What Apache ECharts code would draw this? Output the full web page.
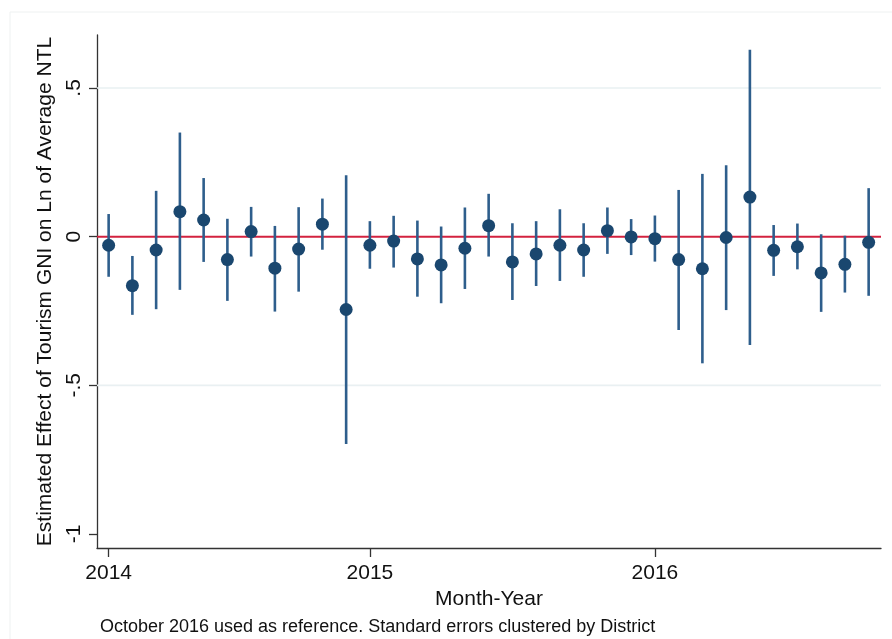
<!DOCTYPE html>
<html>
<head>
<meta charset="utf-8">
<title>Estimated Effect of Tourism GNI on Ln of Average NTL</title>
<script src="https://cdn.jsdelivr.net/npm/echarts@6/dist/echarts.min.js"></script>
<style>
  html, body { margin: 0; padding: 0; background: #ffffff; }
  #chart { width: 892px; height: 639px; }
</style>
</head>
<body>
<div id="chart"></div>
<script>
// Monthly point estimates (month index 0 = first month of 2014) and 95% CI bounds
const coef = [-0.029, -0.165, -0.045, 0.084, 0.056, -0.077, 0.017, -0.106, -0.042, 0.042, -0.245,
              -0.029, -0.015, -0.075, -0.095, -0.039, 0.037, -0.085, -0.058, -0.029, -0.045, 0.020,
              -0.001, -0.007, -0.077, -0.108, -0.003, 0.133, -0.046, -0.034, -0.122, -0.093, -0.019];
const ciHigh = [0.076, -0.065, 0.154, 0.350, 0.197, 0.060, 0.100, 0.036, 0.099, 0.128, 0.206,
                0.052, 0.070, 0.054, 0.034, 0.098, 0.144, 0.045, 0.052, 0.092, 0.045, 0.098,
                0.059, 0.071, 0.157, 0.211, 0.240, 0.628, 0.039, 0.044, 0.008, 0.003, 0.163];
const ciLow = [-0.135, -0.263, -0.244, -0.179, -0.085, -0.216, -0.067, -0.252, -0.185, -0.044, -0.697,
               -0.108, -0.104, -0.202, -0.224, -0.176, -0.067, -0.213, -0.166, -0.149, -0.135, -0.058,
               -0.062, -0.084, -0.314, -0.426, -0.247, -0.364, -0.132, -0.110, -0.253, -0.188, -0.199];

// Axis ticks
const xTickValues = [0, 11, 23];
const xTickLabels = ['2014', '2015', '2016'];
const yTickValues = [-1, -0.5, 0, 0.5];
const yTickLabels = ['-1', '-.5', '0', '.5'];
const gridValues = [-0.5, 0.5];
const referenceValue = [0];

const pointData = coef.map((v, i) => [i, v]);
const ciData = coef.map((v, i) => [i, ciLow[i], ciHigh[i]]);

const FONT = 'Liberation Sans, Arial, Helvetica, sans-serif';
const chart = echarts.init(document.getElementById('chart'), null, { renderer: 'canvas' });

// Full-width horizontal rule at a y value, clipped to the plot area
function hRule(color, width) {
  return (params, api) => {
    const cs = params.coordSys;
    const y = api.coord([0, api.value(0)])[1];
    return {
      type: 'line',
      shape: { x1: cs.x, y1: y, x2: cs.x + cs.width, y2: y },
      style: { stroke: color, lineWidth: width }
    };
  };
}

chart.setOption({
  backgroundColor: '#ffffff',
  animation: false,
  grid: { left: 97, top: 35, width: 784, height: 513 },
  graphic: [
    {
      type: 'rect',
      shape: { x: 10, y: 12, width: 900, height: 700 },
      style: { fill: null, stroke: '#eef1f1', lineWidth: 1 },
      silent: true, z: -1
    },
    {
      type: 'text',
      left: 100, top: 618,
      style: {
        text: 'October 2016 used as reference. Standard errors clustered by District',
        font: '18px ' + FONT, fill: '#111111'
      }
    }
  ],
  xAxis: {
    type: 'value',
    min: -0.49, max: 32.52,
    name: 'Month-Year',
    nameLocation: 'middle',
    nameGap: 40,
    nameTextStyle: { fontFamily: FONT, fontSize: 21, color: '#111111' },
    axisLine: { show: true, onZero: false, lineStyle: { color: '#333333', width: 1.3 } },
    axisTick: { show: true, length: 9, customValues: xTickValues, lineStyle: { color: '#333333', width: 1.3 } },
    axisLabel: {
      customValues: xTickValues,
      margin: 15,
      fontFamily: FONT, fontSize: 21, color: '#111111',
      formatter: v => xTickLabels[xTickValues.indexOf(Math.round(v))] || ''
    },
    splitLine: { show: false }
  },
  yAxis: {
    type: 'value',
    min: -1.047, max: 0.678,
    name: 'Estimated Effect of Tourism GNI on Ln of Average NTL',
    nameLocation: 'middle',
    nameGap: 38,
    nameTextStyle: { fontFamily: FONT, fontSize: 21, color: '#111111' },
    axisLine: { show: true, onZero: false, lineStyle: { color: '#333333', width: 1.3 } },
    axisTick: { show: true, length: 8, customValues: yTickValues, lineStyle: { color: '#333333', width: 1.3 } },
    axisLabel: {
      customValues: yTickValues,
      rotate: 90,
      margin: 12,
      fontFamily: FONT, fontSize: 21, color: '#111111',
      formatter: v => {
        const k = yTickValues.findIndex(t => Math.abs(t - v) < 1e-9);
        return k >= 0 ? yTickLabels[k] : '';
      }
    },
    splitLine: { show: false }
  },
  series: [
    {
      // light horizontal gridlines
      type: 'custom',
      z: 1,
      silent: true,
      data: gridValues.map(v => [v]),
      encode: { y: 0 },
      renderItem: hRule('#e9f0f2', 1.6)
    },
    {
      // reference line at zero
      type: 'custom',
      z: 2,
      silent: true,
      data: referenceValue.map(v => [v]),
      encode: { y: 0 },
      renderItem: hRule('#d3223f', 2)
    },
    {
      // confidence intervals
      type: 'custom',
      z: 3,
      silent: true,
      data: ciData,
      renderItem: (params, api) => {
        const lo = api.coord([api.value(0), api.value(1)]);
        const hi = api.coord([api.value(0), api.value(2)]);
        return {
          type: 'line',
          shape: { x1: lo[0], y1: lo[1], x2: hi[0], y2: hi[1] },
          style: { stroke: '#2e5e8c', lineWidth: 2.6 }
        };
      }
    },
    {
      // point estimates
      type: 'scatter',
      z: 4,
      symbol: 'circle',
      symbolSize: 13,
      itemStyle: { color: '#1a476f', opacity: 1 },
      data: pointData
    }
  ]
});
</script>
</body>
</html>
